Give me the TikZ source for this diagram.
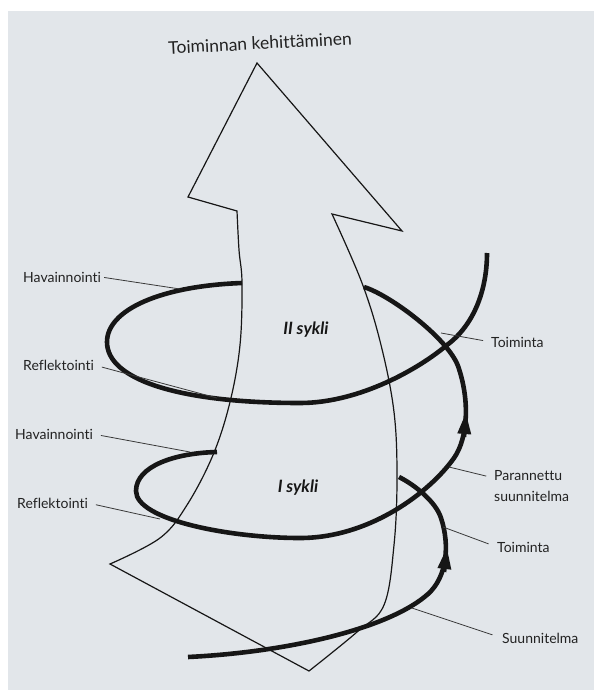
\documentclass[tikz,border=0pt]{standalone}
\usepackage{fontspec}
\setmainfont{Lato}[Ligatures={NoCommon}]
\usetikzlibrary{arrows.meta}
\definecolor{bg}{RGB}{226,230,234}
\definecolor{ink}{RGB}{22,22,22}
\definecolor{txt}{RGB}{34,34,34}
\begin{document}
\begin{tikzpicture}[x=1pt,y=-1pt,
  lbl/.style={font=\fontsize{14}{21}\selectfont, text=txt, inner sep=0pt, anchor=west, align=left},
  cyc/.style={font=\fontsize{17}{19}\selectfont\bfseries\itshape, text=ink, inner sep=0pt},
  leader/.style={draw=ink!85, line width=0.8pt},
  spiral/.style={draw=ink, line width=4.6pt},
  tip/.style={draw=ink, line width=4.6pt, -{Triangle[length=22pt,width=12.5pt]}},
  shaft/.style={draw=ink, line width=1.2pt, line join=miter, fill=bg}]
\useasboundingbox (0,0) rectangle (594,690);
\fill[white] (0,0) rectangle (594,690);
\fill[bg] (8,11) rectangle (594,690);

% big arrow
\path[shaft] (257,63) -- (402,231) -- (332,214)
  -- plot[smooth, tension=0.6] coordinates {(332,214) (362,283) (381,345) (394,412) (397,478) (394,545) (384,605) (357,632) (309,671)}
  -- (110,564)
  -- plot[smooth, tension=0.6] coordinates {(110,564) (160,538) (187,505) (213,455) (230,402) (240,345) (242,283) (239,250) (237,211)}
  -- (188,197) -- cycle;

% spiral: start loop
\draw[spiral] (188,657) .. controls (290,652) and (390,628) .. (428,594)
  .. controls (447,577) and (450,545) .. (441,518)
  .. controls (436,502) and (415,485) .. (399,477);
% loop I
\draw[spiral] (217,452) .. controls (175,453) and (136,466) .. (136,491)
  .. controls (136,520) and (230,538) .. (300,538)
  .. controls (370,538) and (430,492) .. (454,458)
  .. controls (468,438) and (470,400) .. (458,366)
  .. controls (448,339) and (392,296) .. (364,287);
% loop II
\draw[spiral] (242,283) .. controls (160,286) and (107,310) .. (107,342)
  .. controls (107,380) and (180,403) .. (300,403)
  .. controls (360,403) and (420,368) .. (447,345)
  .. controls (474,325) and (487,290) .. (487,253);
\draw[tip] (444,572) -- (447,547);
\draw[tip] (464,437) -- (466,412);

% title and cycle names
\node[font=\fontsize{17.5}{20}\selectfont, text=txt, inner sep=0pt, rotate=3] (title) at (260,43) {Toiminnan kehittäminen};
\node[cyc] (c2) at (306,330) {II sykli};
\node[cyc] (c1) at (298,488) {I sykli};

% labels
\node[lbl] (hav2) at (23,277) {Havainnointi};
\node[lbl] (ref2) at (23,365) {Reflektointi};
\node[lbl] (hav1) at (15,434) {Havainnointi};
\node[lbl] (ref1) at (17,503) {Reflektointi};
\node[lbl] (toi2) at (491,342) {Toiminta};
\node[lbl] (par) at (494,486) {Parannettu\\suunnitelma};
\node[lbl] (toi1) at (497,547) {Toiminta};
\node[lbl] (suu) at (502,638) {Suunnitelma};

% leader end points on the spiral
\coordinate (phav2) at (180,289);
\coordinate (pref2) at (217,398);
\coordinate (phav1) at (190,452);
\coordinate (pref1) at (160,519);
\coordinate (ptoi2) at (441,333);
\coordinate (ppar) at (449,467);
\coordinate (ptoi1) at (443,527);
\coordinate (psuu) at (412,608);

\draw[leader, shorten <=3pt] (hav2.east) -- (phav2);
\draw[leader, shorten <=8pt] (ref2.east) -- (pref2);
\draw[leader, shorten <=8pt] (hav1.east) -- (phav1);
\draw[leader, shorten <=8pt] (ref1.east) -- (pref1);
\draw[leader, shorten >=8pt] (ptoi2) -- (toi2.west);
\draw[leader, shorten >=8pt] (ppar) -- ([yshift=8pt]par.west);
\draw[leader, shorten >=9pt] (ptoi1) -- (toi1.west);
\draw[leader, shorten >=10pt] (psuu) -- (suu.west);
\end{tikzpicture}
\end{document}
